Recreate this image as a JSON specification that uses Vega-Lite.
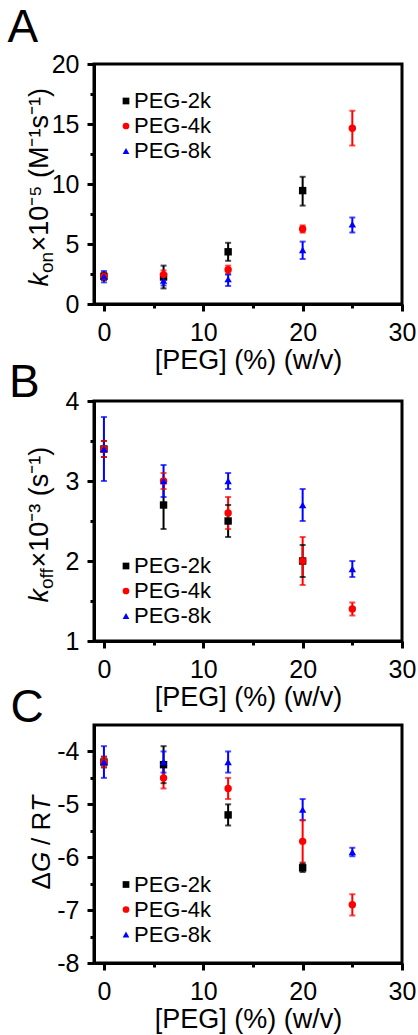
{
  "$schema": "https://vega.github.io/schema/vega-lite/v6.json",
  "padding": {"left": 5, "top": 2, "right": 0, "bottom": 0},
  "background": "white",
  "config": {
    "font": "Liberation Sans",
    "view": {"stroke": "black", "strokeWidth": 3},
    "axis": {"domainColor": "black", "domainWidth": 3, "tickColor": "black", "tickWidth": 3, "labelColor": "black", "titleColor": "black", "labelFont": "Liberation Sans", "titleFont": "Liberation Sans", "labelFontSize": 25, "titleFontSize": 26, "titleFontWeight": "normal", "grid": false, "labelOverlap": false, "labelFlush": false, "labelBound": false},
    "legend": {"labelFont": "Liberation Sans", "labelFontSize": 22, "labelColor": "black"}
  },
  "datasets": {
    "A": [
      {"s": "PEG-2k", "x": 0, "v": 2.3, "lo": 2.0, "hi": 2.6},
      {"s": "PEG-2k", "x": 6, "v": 2.25, "lo": 1.3, "hi": 3.2},
      {"s": "PEG-2k", "x": 12.5, "v": 4.35, "lo": 3.6, "hi": 5.1},
      {"s": "PEG-2k", "x": 20, "v": 9.45, "lo": 8.2, "hi": 10.6},
      {"s": "PEG-4k", "x": 0, "v": 2.3, "lo": 2.05, "hi": 2.55},
      {"s": "PEG-4k", "x": 6, "v": 2.45, "lo": 2.1, "hi": 2.8},
      {"s": "PEG-4k", "x": 12.5, "v": 2.85, "lo": 2.5, "hi": 3.2},
      {"s": "PEG-4k", "x": 20, "v": 6.25, "lo": 5.95, "hi": 6.55},
      {"s": "PEG-4k", "x": 25, "v": 14.65, "lo": 13.2, "hi": 16.1},
      {"s": "PEG-8k", "x": 0, "v": 2.3, "lo": 1.8, "hi": 2.75},
      {"s": "PEG-8k", "x": 6, "v": 1.95, "lo": 1.55, "hi": 2.35},
      {"s": "PEG-8k", "x": 12.5, "v": 2.07, "lo": 1.5, "hi": 2.45},
      {"s": "PEG-8k", "x": 20, "v": 4.5, "lo": 3.75, "hi": 5.2},
      {"s": "PEG-8k", "x": 25, "v": 6.65, "lo": 5.95, "hi": 7.2}
    ],
    "B": [
      {"s": "PEG-2k", "x": 0, "v": 3.4, "lo": 3.3, "hi": 3.5},
      {"s": "PEG-2k", "x": 6, "v": 2.7, "lo": 2.4, "hi": 3.0},
      {"s": "PEG-2k", "x": 12.5, "v": 2.5, "lo": 2.3, "hi": 2.7},
      {"s": "PEG-2k", "x": 20, "v": 2.0, "lo": 1.8, "hi": 2.2},
      {"s": "PEG-4k", "x": 0, "v": 3.4, "lo": 3.3, "hi": 3.5},
      {"s": "PEG-4k", "x": 6, "v": 3.0, "lo": 2.9, "hi": 3.1},
      {"s": "PEG-4k", "x": 12.5, "v": 2.6, "lo": 2.4, "hi": 2.8},
      {"s": "PEG-4k", "x": 20, "v": 2.0, "lo": 1.7, "hi": 2.3},
      {"s": "PEG-4k", "x": 25, "v": 1.4, "lo": 1.32, "hi": 1.48},
      {"s": "PEG-8k", "x": 0, "v": 3.4, "lo": 3.0, "hi": 3.8},
      {"s": "PEG-8k", "x": 6, "v": 3.0, "lo": 2.8, "hi": 3.2},
      {"s": "PEG-8k", "x": 12.5, "v": 3.0, "lo": 2.9, "hi": 3.1},
      {"s": "PEG-8k", "x": 20, "v": 2.7, "lo": 2.5, "hi": 2.9},
      {"s": "PEG-8k", "x": 25, "v": 1.9, "lo": 1.8, "hi": 2.0}
    ],
    "C": [
      {"s": "PEG-2k", "x": 0, "v": -4.2, "lo": -4.3, "hi": -4.1},
      {"s": "PEG-2k", "x": 6, "v": -4.25, "lo": -4.6, "hi": -3.9},
      {"s": "PEG-2k", "x": 12.5, "v": -5.2, "lo": -5.4, "hi": -5.0},
      {"s": "PEG-2k", "x": 20, "v": -6.2, "lo": -6.28, "hi": -6.12},
      {"s": "PEG-4k", "x": 0, "v": -4.2, "lo": -4.3, "hi": -4.1},
      {"s": "PEG-4k", "x": 6, "v": -4.5, "lo": -4.7, "hi": -4.25},
      {"s": "PEG-4k", "x": 12.5, "v": -4.7, "lo": -4.9, "hi": -4.5},
      {"s": "PEG-4k", "x": 20, "v": -5.7, "lo": -6.1, "hi": -5.3},
      {"s": "PEG-4k", "x": 25, "v": -6.9, "lo": -7.1, "hi": -6.7},
      {"s": "PEG-8k", "x": 0, "v": -4.2, "lo": -4.5, "hi": -3.9},
      {"s": "PEG-8k", "x": 6, "v": -4.2, "lo": -4.4, "hi": -4.0},
      {"s": "PEG-8k", "x": 12.5, "v": -4.2, "lo": -4.4, "hi": -4.0},
      {"s": "PEG-8k", "x": 20, "v": -5.1, "lo": -5.3, "hi": -4.9},
      {"s": "PEG-8k", "x": 25, "v": -5.9, "lo": -5.98, "hi": -5.82}
    ]
  },
  "bounds": "flush",
  "spacing": 97,
  "resolve": {"scale": {"color": "independent", "shape": "independent", "fill": "independent", "stroke": "independent"}, "legend": {"color": "independent", "shape": "independent"}},
  "vconcat": [
    {
      "width": 308, "height": 240,
      "data": {"name": "A"},
      "resolve": {"axis": {"x": "independent", "y": "independent"}},
      "layer": [
        {
          "mark": {"type": "rule", "strokeWidth": 2},
          "encoding": {
            "x": {"field": "x", "type": "quantitative", "scale": {"domain": [-1, 30], "nice": false, "zero": false},
                  "axis": {"orient": "bottom", "values": [0, 10, 20, 30], "tickSize": 7, "labelPadding": 9, "title": "[PEG] (%) (w/v)", "titleFontSize": 27, "titlePadding": 2}},
            "y": {"field": "lo", "type": "quantitative", "scale": {"domain": [0, 20], "nice": false, "zero": false},
                  "axis": {"orient": "left", "values": [0, 5, 10, 15, 20], "tickSize": 7, "labelPadding": 8, "title": "k", "titleFontSize": 27, "titleFontStyle": "italic", "titleAngle": 270, "titleAlign": "left", "titleBaseline": "alphabetic", "titleX": -47, "titleY": 222}},
            "y2": {"field": "hi"},
            "stroke": {"field": "s", "type": "nominal", "scale": {"range": ["#000000", "#ff0000", "#0000ff"]}, "legend": null}
          }
        },
        {
          "mark": {"type": "tick", "orient": "horizontal", "size": 6, "thickness": 2},
          "encoding": {
            "x": {"field": "x", "type": "quantitative", "axis": {"orient": "bottom", "values": [5, 15, 25], "tickSize": 4, "labels": false, "domain": false, "title": null}},
            "y": {"field": "lo", "type": "quantitative", "axis": {"orient": "left", "values": [2.5, 7.5, 12.5, 17.5], "tickSize": 4, "labels": false, "domain": false, "title": "on", "titleFontSize": 19, "titleAngle": 270, "titleAlign": "left", "titleBaseline": "alphabetic", "titleX": -42, "titleY": 208.5}},
            "fill": {"field": "s", "type": "nominal", "scale": {"range": ["#000000", "#ff0000", "#0000ff"]}, "legend": null}
          }
        },
        {
          "mark": {"type": "tick", "orient": "horizontal", "size": 6, "thickness": 2},
          "encoding": {
            "x": {"field": "x", "type": "quantitative", "axis": {"orient": "bottom", "labels": false, "ticks": false, "domain": false, "title": "A", "titleFontSize": 46, "titleAngle": 0, "titleAlign": "left", "titleBaseline": "alphabetic", "titleX": -87, "titleY": -263}},
            "y": {"field": "hi", "type": "quantitative", "axis": {"orient": "left", "labels": false, "ticks": false, "domain": false, "title": "×10⁻⁵ (M⁻¹s⁻¹)", "titleFontSize": 27, "titleAngle": 270, "titleAlign": "left", "titleBaseline": "alphabetic", "titleX": -47, "titleY": 187}},
            "fill": {"field": "s", "type": "nominal", "legend": null}
          }
        },
        {
          "mark": {"type": "point", "filled": true, "size": 55, "opacity": 1},
          "encoding": {
            "x": {"field": "x", "type": "quantitative", "axis": null},
            "y": {"field": "v", "type": "quantitative", "axis": null},
            "color": {"field": "s", "type": "nominal", "scale": {"domain": ["PEG-2k", "PEG-4k", "PEG-8k"], "range": ["#000000", "#ff0000", "#0000ff"]}, "legend": {"orient": "none", "legendX": 21, "legendY": 26, "title": null, "symbolSize": 45, "labelOffset": -3, "labelFontSize": 22, "rowPadding": 3, "symbolStrokeWidth": 0, "padding": 0}},
            "shape": {"field": "s", "type": "nominal", "scale": {"domain": ["PEG-2k", "PEG-4k", "PEG-8k"], "range": ["square", "circle", "triangle-up"]}, "legend": {"orient": "none", "legendX": 21, "legendY": 26, "title": null, "symbolSize": 45, "labelOffset": -3, "labelFontSize": 22, "rowPadding": 3, "symbolStrokeWidth": 0, "padding": 0}}
          }
        }
      ]
    },
    {
      "bounds": "flush",
      "spacing": 84,
      "resolve": {"scale": {"color": "independent", "shape": "independent", "fill": "independent", "stroke": "independent"}, "legend": {"color": "independent", "shape": "independent"}},
      "vconcat": [
        {
          "width": 308, "height": 240,
          "data": {"name": "B"},
          "resolve": {"axis": {"x": "independent", "y": "independent"}},
          "layer": [
            {
              "mark": {"type": "rule", "strokeWidth": 2},
              "encoding": {
                "x": {"field": "x", "type": "quantitative", "scale": {"domain": [-1, 30], "nice": false, "zero": false},
                      "axis": {"orient": "bottom", "values": [0, 10, 20, 30], "tickSize": 7, "labelPadding": 9, "title": "[PEG] (%) (w/v)", "titleFontSize": 27, "titlePadding": 2}},
                "y": {"field": "lo", "type": "quantitative", "scale": {"domain": [1, 4], "nice": false, "zero": false},
                      "axis": {"orient": "left", "values": [1, 2, 3, 4], "tickSize": 7, "labelPadding": 8, "title": "k", "titleFontSize": 27, "titleFontStyle": "italic", "titleAngle": 270, "titleAlign": "left", "titleBaseline": "alphabetic", "titleX": -47, "titleY": 201}},
                "y2": {"field": "hi"},
                "stroke": {"field": "s", "type": "nominal", "scale": {"range": ["#000000", "#ff0000", "#0000ff"]}, "legend": null}
              }
            },
            {
              "mark": {"type": "tick", "orient": "horizontal", "size": 6, "thickness": 2},
              "encoding": {
                "x": {"field": "x", "type": "quantitative", "axis": {"orient": "bottom", "values": [5, 15, 25], "tickSize": 4, "labels": false, "domain": false, "title": null}},
                "y": {"field": "lo", "type": "quantitative", "axis": {"orient": "left", "values": [1.5, 2.5, 3.5], "tickSize": 4, "labels": false, "domain": false, "title": "off", "titleFontSize": 19, "titleAngle": 270, "titleAlign": "left", "titleBaseline": "alphabetic", "titleX": -42, "titleY": 187.5}},
                "fill": {"field": "s", "type": "nominal", "scale": {"range": ["#000000", "#ff0000", "#0000ff"]}, "legend": null}
              }
            },
            {
              "mark": {"type": "tick", "orient": "horizontal", "size": 6, "thickness": 2},
              "encoding": {
                "x": {"field": "x", "type": "quantitative", "axis": {"orient": "bottom", "labels": false, "ticks": false, "domain": false, "title": "B", "titleFontSize": 46, "titleAngle": 0, "titleAlign": "left", "titleBaseline": "alphabetic", "titleX": -85.5, "titleY": -244.5}},
                "y": {"field": "hi", "type": "quantitative", "axis": {"orient": "left", "labels": false, "ticks": false, "domain": false, "title": "×10⁻³ (s⁻¹)", "titleFontSize": 27, "titleAngle": 270, "titleAlign": "left", "titleBaseline": "alphabetic", "titleX": -47, "titleY": 166}},
                "fill": {"field": "s", "type": "nominal", "legend": null}
              }
            },
            {
              "mark": {"type": "point", "filled": true, "size": 55, "opacity": 1},
              "encoding": {
                "x": {"field": "x", "type": "quantitative", "axis": null},
                "y": {"field": "v", "type": "quantitative", "axis": null},
                "color": {"field": "s", "type": "nominal", "scale": {"domain": ["PEG-2k", "PEG-4k", "PEG-8k"], "range": ["#000000", "#ff0000", "#0000ff"]}, "legend": {"orient": "none", "legendX": 21, "legendY": 154, "title": null, "symbolSize": 45, "labelOffset": -3, "labelFontSize": 22, "rowPadding": 3, "symbolStrokeWidth": 0, "padding": 0}},
                "shape": {"field": "s", "type": "nominal", "scale": {"domain": ["PEG-2k", "PEG-4k", "PEG-8k"], "range": ["square", "circle", "triangle-up"]}, "legend": {"orient": "none", "legendX": 21, "legendY": 154, "title": null, "symbolSize": 45, "labelOffset": -3, "labelFontSize": 22, "rowPadding": 3, "symbolStrokeWidth": 0, "padding": 0}}
              }
            }
          ]
        },
        {
          "width": 308, "height": 238,
          "data": {"name": "C"},
          "resolve": {"axis": {"x": "independent", "y": "independent"}},
          "layer": [
            {
              "mark": {"type": "rule", "strokeWidth": 2},
              "encoding": {
                "x": {"field": "x", "type": "quantitative", "scale": {"domain": [-1, 30], "nice": false, "zero": false},
                      "axis": {"orient": "bottom", "values": [0, 10, 20, 30], "tickSize": 7, "labelPadding": 9, "title": "[PEG] (%) (w/v)", "titleFontSize": 27, "titlePadding": 2}},
                "y": {"field": "lo", "type": "quantitative", "scale": {"domain": [-8, -3.5], "nice": false, "zero": false},
                      "axis": {"orient": "left", "values": [-8, -7, -6, -5, -4], "tickSize": 7, "labelPadding": 8, "labelExpr": "datum.value < 0 ? '-' + abs(datum.value) : '' + datum.value", "title": "Δ", "titleAngle": 270, "titleAlign": "left", "titleBaseline": "alphabetic", "titleX": -45, "titleY": 164}},
                "y2": {"field": "hi"},
                "stroke": {"field": "s", "type": "nominal", "scale": {"range": ["#000000", "#ff0000", "#0000ff"]}, "legend": null}
              }
            },
            {
              "mark": {"type": "tick", "orient": "horizontal", "size": 6, "thickness": 2},
              "encoding": {
                "x": {"field": "x", "type": "quantitative", "axis": {"orient": "bottom", "values": [5, 15, 25], "tickSize": 4, "labels": false, "domain": false, "title": null}},
                "y": {"field": "lo", "type": "quantitative", "axis": {"orient": "left", "values": [-7.5, -6.5, -5.5, -4.5], "tickSize": 4, "labels": false, "domain": false, "title": "G", "titleFontStyle": "italic", "titleAngle": 270, "titleAlign": "left", "titleBaseline": "alphabetic", "titleX": -45, "titleY": 146.6}},
                "fill": {"field": "s", "type": "nominal", "scale": {"range": ["#000000", "#ff0000", "#0000ff"]}, "legend": null}
              }
            },
            {
              "mark": {"type": "tick", "orient": "horizontal", "size": 6, "thickness": 2},
              "encoding": {
                "x": {"field": "x", "type": "quantitative", "axis": {"orient": "bottom", "labels": false, "ticks": false, "domain": false, "title": "C", "titleFontSize": 46, "titleAngle": 0, "titleAlign": "left", "titleBaseline": "alphabetic", "titleX": -84, "titleY": -242}},
                "y": {"field": "hi", "type": "quantitative", "axis": {"orient": "left", "labels": false, "ticks": false, "domain": false, "title": "/ R", "titleAngle": 270, "titleAlign": "left", "titleBaseline": "alphabetic", "titleX": -45, "titleY": 119.4}},
                "fill": {"field": "s", "type": "nominal", "legend": null}
              }
            },
            {
              "mark": {"type": "point", "filled": true, "size": 55, "opacity": 1},
              "encoding": {
                "x": {"field": "x", "type": "quantitative", "axis": null},
                "y": {"field": "v", "type": "quantitative", "axis": {"orient": "left", "labels": false, "ticks": false, "domain": false, "title": "T", "titleFontStyle": "italic", "titleAngle": 270, "titleAlign": "left", "titleBaseline": "alphabetic", "titleX": -45, "titleY": 86.2}},
                "color": {"field": "s", "type": "nominal", "scale": {"domain": ["PEG-2k", "PEG-4k", "PEG-8k"], "range": ["#000000", "#ff0000", "#0000ff"]}, "legend": {"orient": "none", "legendX": 21, "legendY": 148.5, "title": null, "symbolSize": 45, "labelOffset": -3, "labelFontSize": 22, "rowPadding": 3, "symbolStrokeWidth": 0, "padding": 0}},
                "shape": {"field": "s", "type": "nominal", "scale": {"domain": ["PEG-2k", "PEG-4k", "PEG-8k"], "range": ["square", "circle", "triangle-up"]}, "legend": {"orient": "none", "legendX": 21, "legendY": 148.5, "title": null, "symbolSize": 45, "labelOffset": -3, "labelFontSize": 22, "rowPadding": 3, "symbolStrokeWidth": 0, "padding": 0}}
              }
            }
          ]
        }
      ]
    }
  ]
}
